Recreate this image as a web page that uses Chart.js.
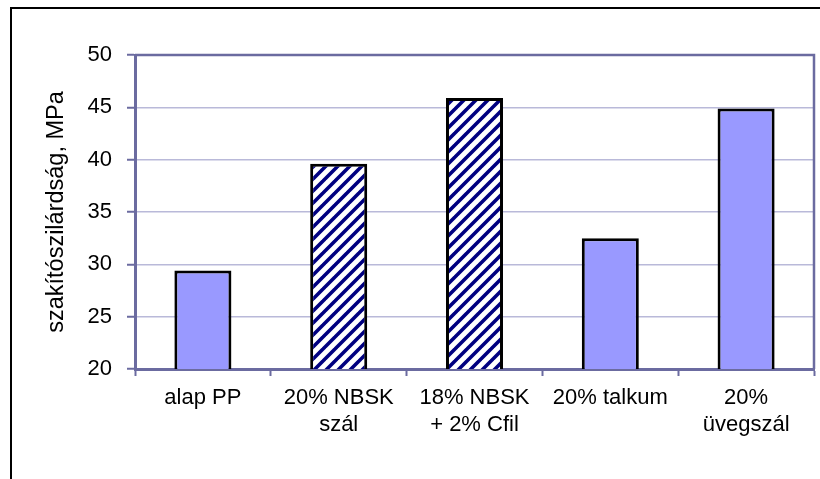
<!DOCTYPE html>
<html>
<head>
<meta charset="utf-8">
<script src="https://cdn.jsdelivr.net/npm/chart.js@4"></script>
<style>
  html, body { margin: 0; padding: 0; background: #fff; overflow: hidden; }
  #wrap { width: 820px; height: 479px; }
</style>
</head>
<body>
<div id="wrap"><canvas id="strengthChart" width="820" height="479"></canvas></div>
<script>
// Data
const categories = [
  "alap PP",
  ["20% NBSK", "szál"],
  ["18% NBSK", "+ 2% Cfil"],
  "20% talkum",
  ["20%", "üvegszál"]
];
const strengthValues = [29.4, 39.6, 45.9, 32.5, 44.9];
const hatchedBars = [false, true, true, false, false];
const yTicks = [20, 25, 30, 35, 40, 45, 50];

const AXIS_COLOR = "#6b6ba0";
const GRID_COLOR = "#b9b9d9";
const FILL_COLOR = "#9999ff";
const HATCH_COLOR = "#000080";
const FONT = "'Liberation Sans', Arial, sans-serif";

// Diagonal navy stripes for the hatched bars.
function makeHatch() {
  const size = 12;
  const c = document.createElement("canvas");
  c.width = size;
  c.height = size;
  const g = c.getContext("2d");
  g.fillStyle = "#fff";
  g.fillRect(0, 0, size, size);
  g.strokeStyle = HATCH_COLOR;
  g.lineWidth = 3.6;
  g.beginPath();
  for (let k = -1; k <= 1; k++) {
    g.moveTo(k * size - 1, size + 1);
    g.lineTo(k * size + size + 1, -1);
  }
  g.stroke();
  return g.createPattern(c, "repeat");
}

// Outer frame and the dark border round the plot area.
const framePlugin = {
  id: "frame",
  beforeDraw(chart) {
    const ctx = chart.ctx;
    ctx.save();
    ctx.strokeStyle = "#000";
    ctx.lineWidth = 2;
    ctx.strokeRect(11, 8, 2000, 2000);
    ctx.restore();
  },
  afterDatasetsDraw(chart) {
    const { ctx, chartArea: a } = chart;
    ctx.save();
    ctx.strokeStyle = AXIS_COLOR;
    ctx.lineWidth = 2.5;
    ctx.beginPath();
    ctx.moveTo(a.left, a.top);
    ctx.lineTo(a.right, a.top);
    ctx.lineTo(a.right, a.bottom);
    ctx.stroke();
    ctx.restore();
  }
};

document.addEventListener("DOMContentLoaded", () => {
  const hatch = makeHatch();
  const ctx = document.getElementById("strengthChart").getContext("2d");

  new Chart(ctx, {
    type: "bar",
    data: {
      labels: categories,
      datasets: [
        {
          data: strengthValues,
          backgroundColor: hatchedBars.map((h) => (h ? hatch : FILL_COLOR)),
          borderColor: "#000",
          borderWidth: 3,
          borderSkipped: false,
          barPercentage: 0.42,
          categoryPercentage: 1
        }
      ]
    },
    options: {
      responsive: false,
      animation: false,
      layout: { padding: { left: 0, right: 6, top: 55, bottom: 0 } },
      plugins: {
        legend: { display: false },
        tooltip: { enabled: false }
      },
      scales: {
        x: {
          offset: true,
          grid: {
            offset: true,
            drawOnChartArea: false,
            drawTicks: true,
            tickLength: 7,
            tickWidth: 2,
            tickColor: AXIS_COLOR
          },
          border: { color: AXIS_COLOR, width: 3 },
          ticks: {
            color: "#000",
            padding: 9,
            maxRotation: 0,
            autoSkip: false,
            font: { family: FONT, size: 22, lineHeight: 1.2 }
          },
          afterFit(scale) {
            scale.height = 479 - 369;
          }
        },
        y: {
          min: 20,
          max: 50,
          afterBuildTicks(scale) {
            scale.ticks = yTicks.map((v) => ({ value: v }));
          },
          grid: {
            color: GRID_COLOR,
            lineWidth: 1.5,
            tickLength: 8,
            tickWidth: 2,
            tickColor: AXIS_COLOR
          },
          border: { color: AXIS_COLOR, width: 3 },
          ticks: {
            color: "#000",
            padding: 15,
            font: { family: FONT, size: 22 }
          },
          title: {
            display: true,
            text: "szakítószilárdság, MPa",
            color: "#000",
            padding: { top: 42, bottom: 0 },
            font: { family: FONT, size: 23.5, lineHeight: 1.2 }
          },
          afterFit(scale) {
            scale.width = 135;
          }
        }
      }
    },
    plugins: [framePlugin]
  });
});
</script>
</body>
</html>
